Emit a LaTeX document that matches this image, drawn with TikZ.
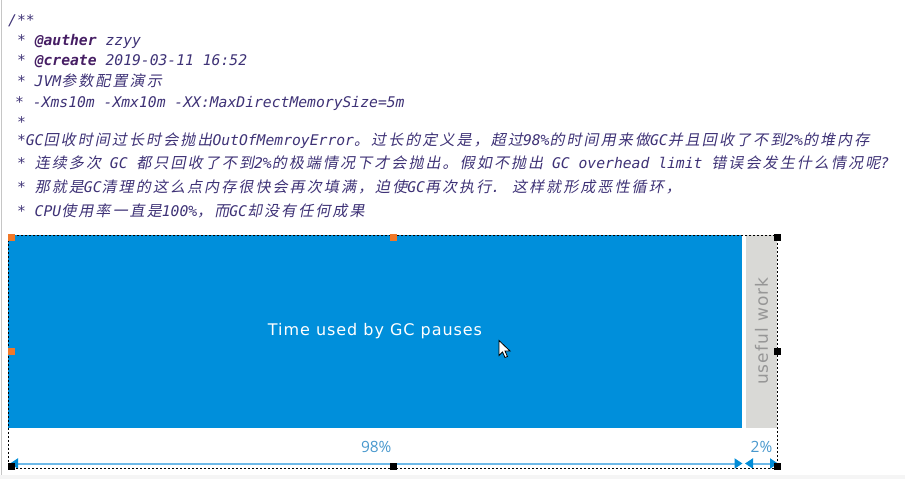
\documentclass[tikz,border=0pt]{standalone}
\usepackage{fontspec}
\usetikzlibrary{arrows.meta,positioning}
\newfontfamily\codefont{DejaVu Sans Mono}
\newfontfamily\cjkfont{Noto Sans CJK SC}[FakeSlant=0.2,LetterSpace=14]
\newfontfamily\barfont{DejaVu Sans}[LetterSpace=6]
\newfontfamily\dimfont{Open Sans}
\newcommand\cj[1]{{\cjkfont\fontsize{15}{18}\selectfont #1}}
\definecolor{doctext}{RGB}{62,50,118}
\definecolor{doctag}{RGB}{70,30,100}
\definecolor{gcblue}{RGB}{0,143,219}
\definecolor{workgray}{RGB}{217,217,214}
\definecolor{workink}{RGB}{150,150,150}
\definecolor{dimlinecol}{RGB}{110,185,232}
\definecolor{dimtip}{RGB}{0,140,215}
\definecolor{dimink}{RGB}{72,152,205}
\definecolor{handleorange}{RGB}{240,120,40}

\begin{document}
\begin{tikzpicture}[
  x=1pt,
  y=-1pt,
  codeline/.style={anchor=base west,inner sep=0pt,text=doctext,
    font=\codefont\itshape\fontsize{14.7}{18}\selectfont},
  gcbar/.style={anchor=north west,fill=gcblue,inner sep=0pt,outer sep=0pt,
    minimum width=734pt,minimum height=193pt,text=white,
    font=\barfont\fontsize{16}{18}\selectfont},
  workbar/.style={fill=workgray,inner sep=0pt,outer sep=0pt,
    minimum width=193.5pt,minimum height=31pt,text=workink,
    font=\barfont\fontsize{17}{18}\selectfont},
  selbox/.style={anchor=north west,draw=black,line width=.8pt,
    dash pattern=on 2pt off 2pt,inner sep=0pt,
    minimum width=769pt,minimum height=233pt},
  dimarrow/.style={{Triangle[length=8pt,width=10pt,color=dimtip]}-{Triangle[length=8pt,width=10pt,color=dimtip]},
    draw=dimlinecol,line width=2pt},
  dimlabel/.style={anchor=base,inner sep=0pt,text=dimink,yshift=11pt,
    font=\dimfont\fontsize{15.5}{18}\selectfont},
  handleo/.style={fill=handleorange,inner sep=0pt,minimum size=7pt},
  handleb/.style={fill=black,inner sep=0pt,minimum size=7pt}
]

% editor frame
\fill[gray!8] (0,474) rectangle (905,478);
\draw[gray!45,line width=1pt] (1.5,0) -- (1.5,474);
\useasboundingbox (0,0) rectangle (905,478);

% comment block
\node[codeline] (l1) at (8,25) {/**};
\node[codeline] (l2) at (16.85,45) {* \textcolor{doctag}{\bfseries @auther} zzyy};
\node[codeline] (l3) at (16.85,65) {* \textcolor{doctag}{\bfseries @create} 2019-03-11 16:52};
\node[codeline] (l4) at (16.85,86) {* JVM\cj{参数配置演示}};
\node[codeline] (l5) at (15,107) {* -Xms10m -Xmx10m -XX:MaxDirectMemorySize=5m};
\node[codeline] (l6) at (16.85,127) {*};
\node[codeline] (l7) at (16.85,145)
  {*GC\cj{回收时间过长时会抛出}OutOfMemroyError\cj{。过长的定义是，超过}98\%\cj{的时间用来做}GC\cj{并且回收了不到}2\%\cj{的堆内存}};
\node[codeline] (l8) at (16.85,168)
  {* \cj{连续多次} GC \cj{都只回收了不到}2\%\cj{的极端情况下才会抛出。假如不抛出} GC overhead limit \cj{错误会发生什么情况呢}?};
\node[codeline] (l9) at (16.85,192)
  {* \cj{那就是}GC\cj{清理的这么点内存很快会再次填满，迫使}GC\cj{再次执行}. \cj{这样就形成恶性循环，}};
\node[codeline] (l10) at (16.85,216)
  {* CPU\cj{使用率一直是}100\%\cj{，而}GC\cj{却没有任何成果}};

% bars
\node[gcbar] (gcbar) at (8,234) {Time used by GC pauses};
\node[workbar,rotate=90] (workbar) at (761.5,330.75) {useful work};

% dimensions
\coordinate (d98a) at (10,463);
\coordinate (d98b) at (742.5,463);
\coordinate (d2a) at (745,463);
\coordinate (d2b) at (778,463);
\draw[dimarrow] (d98a) -- node[dimlabel]{98\%} (d98b);
\draw[dimarrow] (d2a) -- node[dimlabel]{2\%} (d2b);

% selection
\node[selbox] (selbox) at (8,234) {};
\foreach \hx/\hy [count=\i] in {11/237,393/237,11/351}
  \node[handleo] (ho\i) at (\hx,\hy) {};
\foreach \hx/\hy [count=\i] in {777/237,777/351,777/466,393/466,11/466}
  \node[handleb] (hb\i) at (\hx,\hy) {};

% mouse pointer
\draw[fill=white,line width=.8pt,line join=miter]
  (499,340) -- ++(0,15) -- ++(3.5,-3.5) -- ++(2.5,5.5) -- ++(2.5,-1)
  -- ++(-2.5,-5.5) -- ++(5,0) -- cycle;

\end{tikzpicture}
\end{document}
